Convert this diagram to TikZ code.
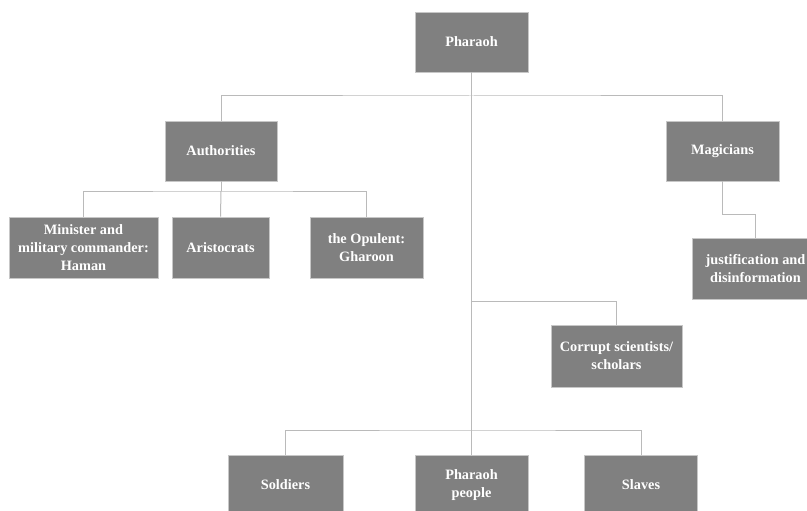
\documentclass[tikz,border=0pt]{standalone}
\usepackage{fontspec}
\setmainfont{Liberation Serif}
\begin{document}
\begin{tikzpicture}[x=1pt,y=-1pt,
  box/.style={draw=black!22, line width=0.6pt, fill=black!50, text=white,
    font=\fontsize{14.3}{18}\selectfont\bfseries, align=center,
    inner sep=0pt, minimum height=60pt},
  link/.style={draw=black!27, line width=1pt}]
\useasboundingbox (0,0) rectangle (807,511);
\fill[white] (0,0) rectangle (807,511);
\node[box, minimum width=113pt] (ph) at (471.5,42) {Pharaoh};
\node[box, minimum width=112pt] (au) at (221,151) {Authorities};
\node[box, minimum width=113pt] (mg) at (722.5,151) {Magicians};
\node[box, minimum width=149pt, minimum height=61pt] (mi) at (83.5,247.5) {Minister and\\military commander:\\Haman};
\node[box, minimum width=97pt, minimum height=61pt] (ar) at (220.5,247.5) {Aristocrats};
\node[box, minimum width=113pt, minimum height=61pt] (op) at (366.5,247.5) {the Opulent:\\Gharoon};
\node[box, minimum width=127pt, minimum height=61pt] (ju) at (755.5,268.5) {justification and\\disinformation};
\node[box, minimum width=131pt, minimum height=62pt] (co) at (616.5,356) {Corrupt scientists/\\scholars};
\node[box, minimum width=115pt] (so) at (285.5,485) {Soldiers};
\node[box, minimum width=113pt] (pp) at (471.5,485) {Pharaoh\\people};
\node[box, minimum width=113pt] (sl) at (641,485) {Slaves};
\coordinate (t1) at (471.5,96);
\coordinate (t2) at (471.5,301);
\coordinate (t3) at (471.5,430);
\coordinate (a1) at (221,191);
\coordinate (m1) at (722.5,214);
% connectors
\draw[link] (ph.south) -- (pp.north);
\draw[link] (au.north) |- (t1) -| (mg.north);
\draw[link] (au.south) -- (a1);
\draw[link] (mi.north) |- (a1) -| (op.north);
\draw[link] (a1) -- (ar.north);
\draw[link] (mg.south) -- (m1) -| (ju.north);
\draw[link] (t2) -| (co.north);
\draw[link] (so.north) |- (t3) -| (sl.north);
\end{tikzpicture}
\end{document}
